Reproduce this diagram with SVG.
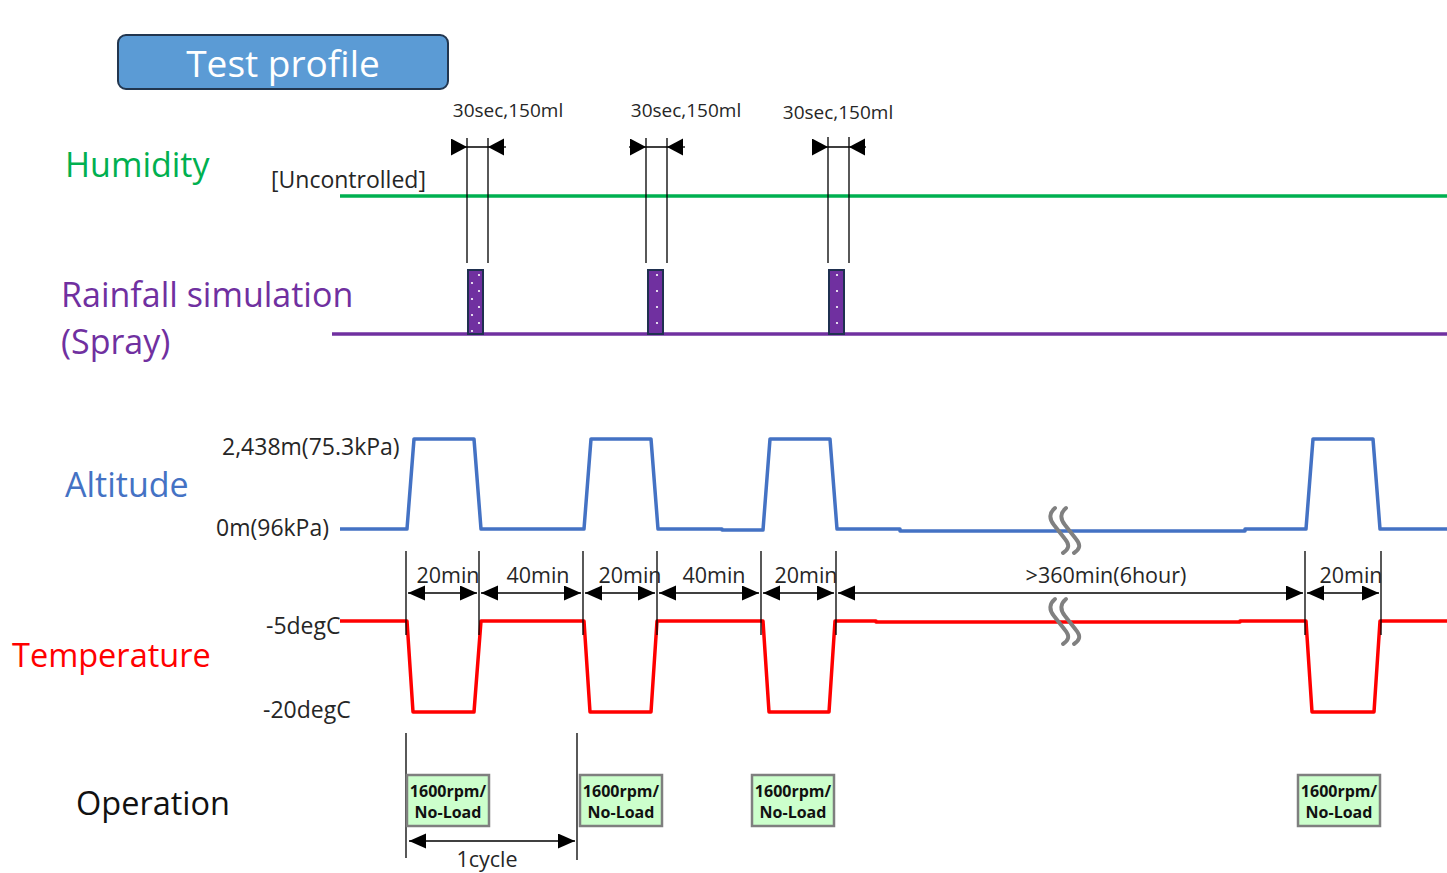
<svg xmlns="http://www.w3.org/2000/svg" width="1447" height="873" viewBox="0 0 1447 873">
  <style>
    text { font-family: "Open Sans", "Noto Sans", "DejaVu Sans", sans-serif; }
    .big { font-size: 34px; }
    .big.s33 { font-size: 32.5px; }
    .lab { font-size: 23px; fill: #262626; }
    .tm { font-size: 21.5px; fill: #262626; text-anchor: middle; }
    .sml { font-size: 19px; fill: #262626; text-anchor: middle; }
    .thin { stroke: #000; stroke-width: 1.3; fill: none; }
    .dim { stroke: #000; stroke-width: 1.3; fill: none; marker-start: url(#arr); marker-end: url(#arr); }
    .in { stroke: #000; stroke-width: 1.3; fill: none; marker-end: url(#tip); }
    .wave { fill: none; stroke-width: 3.5; stroke-linejoin: round; }
    .brk { fill: none; stroke: #808080; stroke-width: 4; stroke-linecap: round; }
    .spray { fill: #7030A0; stroke: #1F3050; stroke-width: 2; }
    .dot { fill: #fff; }
    .op rect { fill: #CCFFCC; stroke: #7F7F7F; stroke-width: 2.5; }
    .op text { font-size: 16px; font-weight: bold; fill: #111; text-anchor: middle; }
  </style>
  <defs>
    <marker id="arr" markerUnits="userSpaceOnUse" markerWidth="18" markerHeight="16" refX="17" refY="7.5" orient="auto-start-reverse">
      <path d="M0 0 L17 7.5 L0 15 z" fill="#000"/>
    </marker>
    <marker id="tip" markerUnits="userSpaceOnUse" markerWidth="18" markerHeight="18" refX="16" refY="8.5" orient="auto">
      <path d="M0 0 L16 8.5 L0 17 z" fill="#000"/>
    </marker>
    <path id="wave-break" class="brk" d="M-6 -22 C-12 -17 -12 -11 -7 -5 L4 9 C9 15 8 19 2 23"/>
  </defs>

  <!-- title -->
  <g id="title">
    <rect x="118" y="35" width="330" height="54" rx="8" fill="#5B9BD5" stroke="#22364F" stroke-width="2"/>
    <text x="283" y="77" font-size="37" fill="#fff" text-anchor="middle">Test profile</text>
  </g>

  <!-- row labels -->
  <g id="labels">
    <text class="big" x="65" y="177" fill="#00B050">Humidity</text>
    <text class="lab" x="271" y="188">[Uncontrolled]</text>
    <text class="big" x="61" y="307" fill="#7030A0">Rainfall simulation</text>
    <text class="big" x="61" y="354" fill="#7030A0">(Spray)</text>
    <text class="big" x="65" y="497" fill="#4472C4">Altitude</text>
    <text class="lab" x="222" y="455">2,438m(75.3kPa)</text>
    <text class="lab" x="216" y="536">0m(96kPa)</text>
    <text class="big s33" x="12" y="667" fill="#FF0000">Temperature</text>
    <text class="lab" x="266" y="634">-5degC</text>
    <text class="lab" x="263" y="718">-20degC</text>
    <text class="big s33" x="76" y="815" fill="#111">Operation</text>
  </g>

  <!-- humidity and spray baselines -->
  <g id="humidity">
    <line x1="340" y1="196" x2="1447" y2="196" stroke="#00B050" stroke-width="3.5"/>
  </g>
  <g id="rainfall">
    <line x1="332" y1="334" x2="1447" y2="334" stroke="#7030A0" stroke-width="3.5"/>
    <rect class="spray" x="468" y="270" width="15" height="64"/>
    <rect class="spray" x="648" y="270" width="15" height="64"/>
    <rect class="spray" x="829" y="270" width="15" height="64"/>
    <g class="dot">
      <circle cx="479" cy="275" r="1.1"/><circle cx="472" cy="283" r="1.1"/><circle cx="479" cy="291" r="1.1"/>
      <circle cx="472" cy="299" r="1.1"/><circle cx="479" cy="307" r="1.1"/><circle cx="472" cy="315" r="1.1"/>
      <circle cx="479" cy="323" r="1.1"/><circle cx="472" cy="331" r="1.1"/>
      <circle cx="657" cy="275" r="1.1"/><circle cx="657" cy="291" r="1.1"/><circle cx="657" cy="307" r="1.1"/><circle cx="657" cy="323" r="1.1"/>
      <circle cx="837" cy="275" r="1.1"/><circle cx="837" cy="291" r="1.1"/><circle cx="837" cy="307" r="1.1"/><circle cx="837" cy="323" r="1.1"/>
    </g>
  </g>

  <!-- altitude profile -->
  <g id="altitude">
    <path class="wave" stroke="#4472C4" d="M340 529 H407 L414 439 H474 L481 529 H584 L591 439 H651 L658 529 H722 V530 H763 L770 439 H830 L837 529 H900 V531 H1245 V529 H1306 L1313 439 H1373 L1380 529 H1447"/>
  </g>

  <!-- temperature profile -->
  <g id="temperature">
    <path class="wave" stroke="#FF0000" d="M340 621 H407 L413 712 H474 L481 621 H584 L590 712 H651 L657 621 H763 L769 712 H829 L835 621 H876 V622 H1240 V621 H1306 L1312 712 H1374 L1380 621 H1447"/>
  </g>

  <!-- time break marks -->
  <g id="breaks">
    <use href="#wave-break" x="1061" y="530"/>
    <use href="#wave-break" x="1072" y="530"/>
    <use href="#wave-break" x="1061" y="621"/>
    <use href="#wave-break" x="1072" y="621"/>
  </g>

  <!-- dimension lines and connectors -->
  <g id="connectors">
    <!-- spray duration marks -->
    <path class="thin" d="M467 138 V263 M488 138 V263 M467 147 H488"/>
    <path class="in" d="M451 147 H467"/>
    <path class="in" d="M506 147 H488"/>
    <path class="thin" d="M646 138 V263 M667 138 V263 M646 147 H667"/>
    <path class="in" d="M629 147 H646"/>
    <path class="in" d="M685 147 H667"/>
    <path class="thin" d="M828 137 V263 M849 137 V263 M828 147 H849"/>
    <path class="in" d="M812 147 H828"/>
    <path class="in" d="M866 147 H849"/>

    <!-- step timing marks -->
    <path class="thin" d="M406 551 V635 M479 551 V635 M583 551 V635 M657 551 V635 M761 551 V635 M836 551 V635 M1305 551 V635 M1381 551 V635"/>
    <path class="dim" d="M408 593 H477"/>
    <path class="dim" d="M481 593 H581"/>
    <path class="dim" d="M585 593 H655"/>
    <path class="dim" d="M659 593 H759"/>
    <path class="dim" d="M763 593 H834"/>
    <path class="dim" d="M838 593 H1303"/>
    <path class="dim" d="M1307 593 H1379"/>

    <!-- one cycle -->
    <path class="thin" d="M406 733 V858 M577 733 V860"/>
    <path class="dim" d="M409 841 H575"/>
  </g>

  <g id="dim-labels">
    <text class="sml" x="508" y="117">30sec,150ml</text>
    <text class="sml" x="686" y="117">30sec,150ml</text>
    <text class="sml" x="838" y="119">30sec,150ml</text>
    <text class="tm" x="448" y="583">20min</text>
    <text class="tm" x="538" y="583">40min</text>
    <text class="tm" x="630" y="583">20min</text>
    <text class="tm" x="714" y="583">40min</text>
    <text class="tm" x="806" y="583">20min</text>
    <text class="tm" x="1106" y="583">&gt;360min(6hour)</text>
    <text class="tm" x="1351" y="583">20min</text>
    <text class="tm" x="487" y="867">1cycle</text>
  </g>

  <!-- operation blocks -->
  <g id="op1" class="op">
    <rect x="407" y="775" width="82" height="51"/>
    <text x="448" y="797">1600rpm/</text><text x="448" y="818">No-Load</text>
  </g>
  <g id="op2" class="op">
    <rect x="580" y="775" width="82" height="51"/>
    <text x="621" y="797">1600rpm/</text><text x="621" y="818">No-Load</text>
  </g>
  <g id="op3" class="op">
    <rect x="752" y="775" width="82" height="51"/>
    <text x="793" y="797">1600rpm/</text><text x="793" y="818">No-Load</text>
  </g>
  <g id="op4" class="op">
    <rect x="1298" y="775" width="82" height="51"/>
    <text x="1339" y="797">1600rpm/</text><text x="1339" y="818">No-Load</text>
  </g>
</svg>
